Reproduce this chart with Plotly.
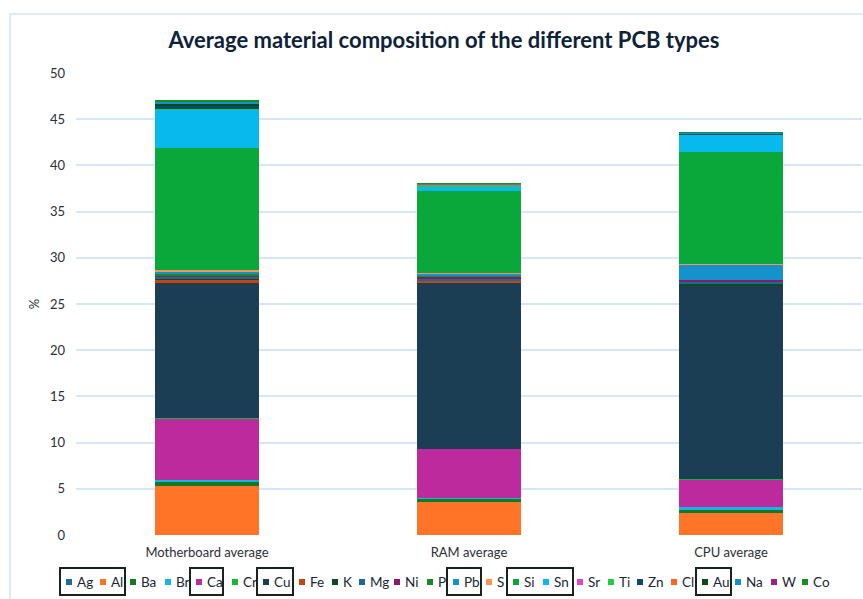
import plotly.graph_objects as go

# PCB types (x categories)
pcb_types = ["Motherboard average", "RAM average", "CPU average"]

# Elements in stacking order (bottom to top) and their average share in %
elements = ["Ag", "Al", "Ba", "Br", "Ca", "Cr", "Cu", "Fe", "K", "Mg", "Ni", "P",
            "Pb", "S", "Si", "Sn", "Sr", "Ti", "Zn", "Cl", "Au", "Na", "W", "Co"]

motherboard = [0.05, 5.2, 0.5, 0.15, 6.75, 0.05, 14.6, 0.3, 0.1, 0.3, 0.1, 0.1,
               0.35, 0.15, 13.2, 4.1, 0.05, 0.05, 0.35, 0.05, 0.2, 0.2, 0.05, 0.05]
ram = [0.03, 3.55, 0.35, 0.1, 5.3, 0.02, 18.0, 0.15, 0.05, 0.2, 0.2, 0.05,
       0.25, 0.1, 8.85, 0.55, 0.02, 0.02, 0.08, 0.02, 0.05, 0.05, 0.03, 0.03]
cpu = [0.03, 2.35, 0.35, 0.25, 3.05, 0.02, 20.9, 0.1, 0.15, 0.15, 0.25, 0.05,
       1.65, 0.05, 12.1, 1.85, 0.02, 0.02, 0.08, 0.02, 0.05, 0.05, 0.03, 0.03]

# Elements highlighted with a frame in the legend
highlighted_groups = [["Ag", "Al"], ["Ca"], ["Cu"], ["Pb"], ["Si", "Sn"], ["Au"]]

colors = {
    "Ag": "#1b6d98", "Al": "#ff7426", "Ba": "#127a22", "Br": "#18b2e6",
    "Ca": "#bd2a9e", "Cr": "#14b834", "Cu": "#1b3e55", "Fe": "#c4460e",
    "K": "#0d4a1e", "Mg": "#1a6a92", "Ni": "#8a1a6e", "P": "#1a8a24",
    "Pb": "#1592cc", "S": "#ff9256", "Si": "#0aa83a", "Sn": "#08b9ee",
    "Sr": "#ee42c2", "Ti": "#22cc44", "Zn": "#0c4a6a", "Cl": "#ff6422",
    "Au": "#0b4a1c", "Na": "#1290d0", "W": "#a0207c", "Co": "#129020",
}

# Figure geometry (pixels)
W, H = 863, 599
L, R, T, B = 76, 1, 73, 64
plot_w, plot_h = W - L - R, H - T - B

def px_x(x):
    return (x - L) / plot_w

def px_y(y):
    return (H - B - y) / plot_h

fig = go.Figure()
for i, el in enumerate(elements):
    fig.add_trace(go.Bar(
        name=el,
        x=pcb_types,
        y=[motherboard[i], ram[i], cpu[i]],
        marker=dict(color=colors[el], line=dict(width=0)),
        showlegend=False,
        hovertemplate=el + ": %{y:.2f}%<extra>%{x}</extra>",
    ))

# Hand-laid legend row under the chart
legend_x = [66, 100, 130, 165, 196, 232, 263, 299, 332, 359, 394, 427,
            453, 486, 513, 543, 577, 608, 637, 671, 702, 735, 771, 802]
legend_y = 582
shapes = []
annotations = []
for el, lx in zip(elements, legend_x):
    shapes.append(dict(
        type="rect", xref="paper", yref="paper",
        x0=px_x(lx), x1=px_x(lx + 6), y0=px_y(legend_y + 3), y1=px_y(legend_y - 3),
        fillcolor=colors[el], line=dict(width=0),
    ))
    annotations.append(dict(
        text=el, xref="paper", yref="paper", x=px_x(lx + 9), y=px_y(legend_y),
        xanchor="left", yanchor="middle", showarrow=False,
        font=dict(family="Lato, Noto Sans, sans-serif", size=13.5, color="#1c2633"),
    ))

# Frames around highlighted legend groups
pos = dict(zip(elements, legend_x))
frame_right = {"Al": 125, "Ca": 223, "Cu": 293, "Pb": 481, "Sn": 573, "Au": 731}
for grp in highlighted_groups:
    x0 = pos[grp[0]] - 6
    x1 = frame_right[grp[-1]]
    shapes.append(dict(
        type="rect", xref="paper", yref="paper",
        x0=px_x(x0), x1=px_x(x1), y0=px_y(595), y1=px_y(568),
        line=dict(color="#18231c", width=2), fillcolor="rgba(0,0,0,0)",
    ))

# Light chart border
shapes.append(dict(
    type="rect", xref="paper", yref="paper",
    x0=px_x(10), x1=px_x(W + 5), y0=px_y(H + 5), y1=px_y(14),
    line=dict(color="#d4e6f7", width=1.5), fillcolor="rgba(0,0,0,0)", layer="below",
))

fig.update_layout(
    barmode="stack",
    bargap=0.6,
    width=W, height=H,
    margin=dict(l=L, r=R, t=T, b=B),
    paper_bgcolor="white",
    plot_bgcolor="white",
    title=dict(
        text="<b>Average material composition of the different PCB types</b>",
        x=444 / W, xanchor="center", y=1 - 40 / H, yanchor="middle",
        font=dict(family="Lato, Noto Sans, sans-serif", size=22, color="#0e2238"),
    ),
    font=dict(family="Lato, Noto Sans, sans-serif", size=13, color="#2b2f36"),
    xaxis=dict(
        showgrid=False, showline=False, zeroline=False,
        ticklabelstandoff=8,
        tickfont=dict(size=13, color="#2b2f36"),
    ),
    yaxis=dict(
        range=[0, 50], dtick=5, tick0=0,
        showgrid=True, gridcolor="#d4e6f7", gridwidth=1.5,
        zeroline=False, showline=False,
        ticklabelstandoff=10,
        tickfont=dict(size=13, color="#2b2f36"),
        title=dict(text="%", standoff=7, font=dict(size=13, color="#2b2f36")),
    ),
    shapes=shapes,
    annotations=annotations,
)

fig.write_html("out.html")
